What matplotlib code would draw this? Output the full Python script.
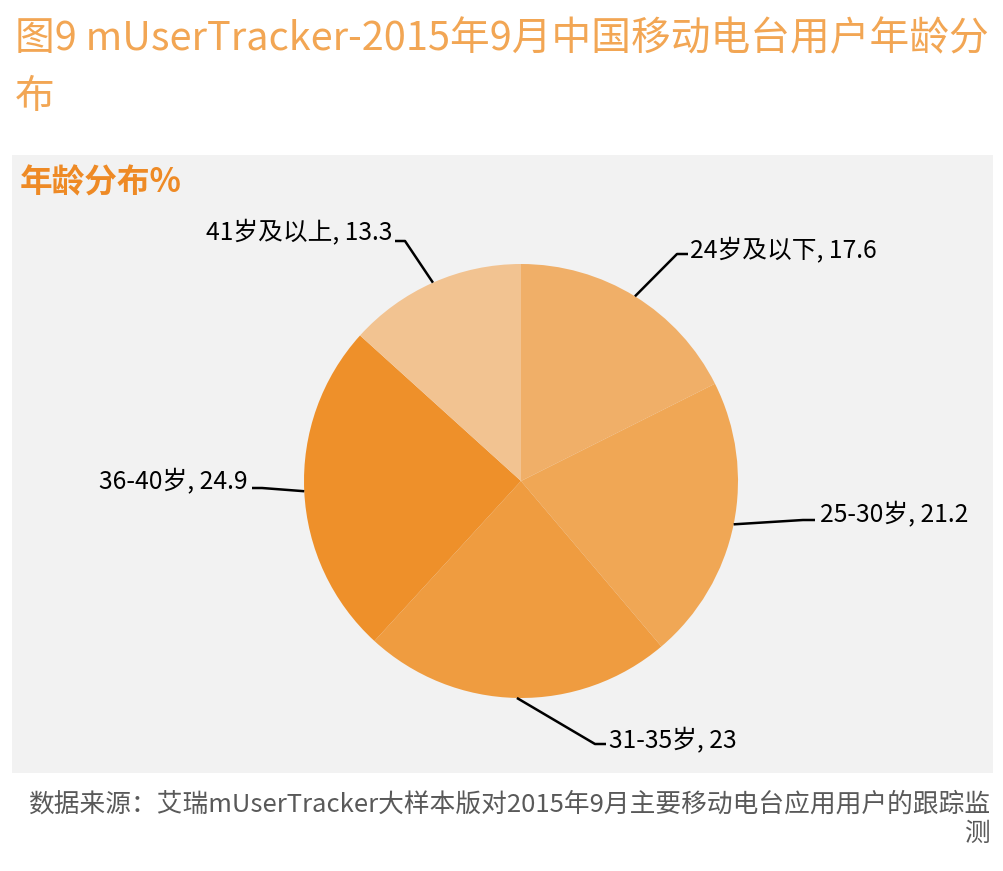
import numpy as np
import matplotlib
matplotlib.use("Agg")
import matplotlib.pyplot as plt
from matplotlib.patches import Rectangle

plt.rcParams['font.family'] = ['Noto Sans CJK SC', 'DejaVu Sans']

# --- data ---
age_groups = ["24岁及以下", "25-30岁", "31-35岁", "36-40岁", "41岁及以上"]
shares = [17.6, 21.2, 23, 24.9, 13.3]
colors = ["#F0AF68", "#F0A755", "#EF9C40", "#EE902A", "#F2C391"]

title = "图9 mUserTracker-2015年9月中国移动电台用户年龄分\n布"
panel_title = "年龄分布%"
source = "数据来源：艾瑞mUserTracker大样本版对2015年9月主要移动电台应用用户的跟踪监\n测"

W, H = 1004, 871

def Y(py):
    # pixel row (from top) -> axes y (from bottom)
    return H - py

fig = plt.figure(figsize=(W / 100, H / 100), dpi=100)
ax = fig.add_axes([0, 0, 1, 1])

# grey panel behind the pie
ax.add_patch(Rectangle((12, Y(773)), 981, 618, facecolor="#F2F2F2",
                       edgecolor="none", zorder=0))

cx, cy, r = 521, Y(481), 217
wedges, _ = ax.pie(shares, colors=colors, startangle=90, counterclock=False,
                   center=(cx, cy), radius=r,
                   wedgeprops=dict(linewidth=0, edgecolor="none"))
for w in wedges:
    w.set_zorder(2)

ax.set_xlim(0, W)
ax.set_ylim(0, H)
ax.set_aspect("equal")
ax.axis("off")

# label placement: (text x, text y, ha, leader points after the wedge edge)
label_layout = [
    (690, 251, "left", [(677, 254), (688, 254)]),
    (820, 515, "left", [(803, 520), (815, 520)]),
    (609, 741, "left", [(595, 744), (606, 744)]),
    (248, 482, "right", [(262, 488), (252, 488)]),
    (392, 233, "right", [(405, 241), (395, 241)]),
]

for w, name, val, (tx, ty, ha, pts) in zip(wedges, age_groups, shares, label_layout):
    mid = np.deg2rad((w.theta1 + w.theta2) / 2)
    ex, ey = cx + r * np.cos(mid), cy + r * np.sin(mid)
    xs = [ex] + [p[0] for p in pts]
    ys = [ey] + [Y(p[1]) for p in pts]
    ax.plot(xs, ys, color="black", lw=1.8, zorder=3, solid_capstyle="butt")
    ax.text(tx, Y(ty), f"{name}, {val:g}", ha=ha, va="center",
            fontsize=17.8, color="black", zorder=4)

fig.text(15 / W, 1 - 68 / H, title, ha="left", va="center", fontsize=28.6,
         fontweight="light", color="#F2A654", linespacing=1.55)
fig.text(20 / W, 1 - 183 / H, panel_title, ha="left", va="center",
         fontsize=23.5, fontweight="bold", color="#EE8A25")
fig.text(990 / W, 1 - 819 / H, source, ha="right", va="center", fontsize=18.5,
         color="#595959", linespacing=1.15, multialignment="right")

fig.savefig("out.png", dpi=100)
